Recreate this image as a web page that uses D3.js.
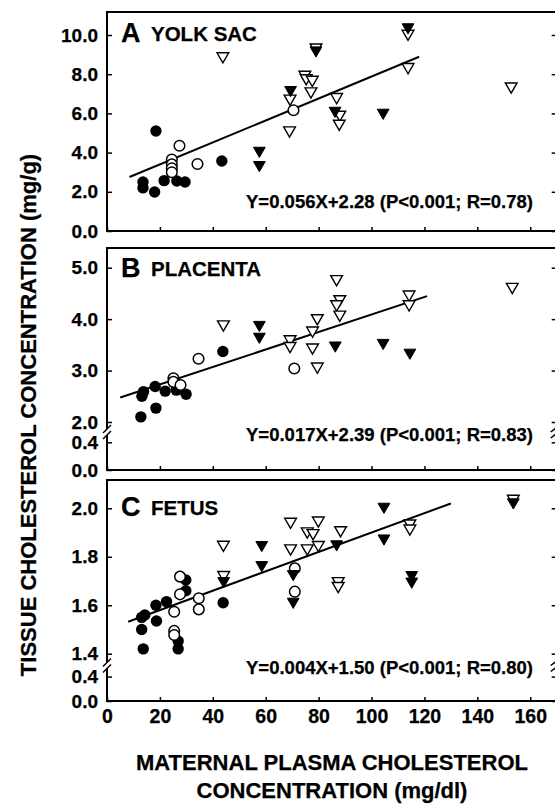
<!DOCTYPE html>
<html>
<head>
<meta charset="utf-8">
<script src="https://cdn.jsdelivr.net/npm/d3@7"></script>
<style>
  body { margin: 0; background: #fff; }
  svg text { font-family: "Liberation Sans", Arial, sans-serif; font-weight: bold; fill: #000; stroke: #000; stroke-width: 0.25px; }
</style>
</head>
<body>
<svg id="chart"></svg>
<script>
// ---- data: [maternal plasma chol (mg/dl), tissue chol (mg/g)] ----
const xTicks = [0, 20, 40, 60, 80, 100, 120, 140, 160];

// A: yolk sac
const aFilledCircle = [[18.5,5.1],[13.6,2.5],[13.6,2.2],[18,1.99],[21.6,2.57],[26.4,2.55],[29.5,2.5],[43.4,3.57]];
const aOpenCircle = [[27.4,4.35],[24.5,3.65],[24.5,3.4],[24.5,3.2],[24.5,3.0],[34.2,3.42],[70.5,6.16]];
const aFilledTri = [[57.6,4.1],[57.6,3.37],[69.4,7.2],[79,9.22],[86.2,6.14],[104.4,6.04],[113.8,10.4]];
const aOpenTri = [[43.8,8.92],[69.2,6.76],[69,5.14],[74.8,7.98],[75.3,7.8],[77.6,7.72],[77.1,7.13],[79,9.37],
  [86.8,6.84],[88,5.94],[87.8,5.48],[113.8,10.07],[113.8,8.37],[152.8,7.38]];
const aTicks = [0, 2, 4, 6, 8, 10];

// B: placenta
const bFilledCircle = [[12.8,2.1],[18.5,2.27],[13.2,2.5],[13.8,2.59],[18.2,2.69],[22,2.6],[26.2,2.62],[29.9,2.54],[43.8,3.37]];
const bOpenCircle = [[25.1,2.85],[25.1,2.78],[27.8,2.72],[34.6,3.23],[70.8,3.04]];
const bFilledTri = [[57.6,3.89],[57.6,3.66],[86.3,3.49],[104.4,3.54],[114.5,3.35]];
const bOpenTri = [[44,3.9],[69.2,3.61],[69.2,3.48],[77.7,3.78],[77.7,3.45],[79.5,4.02],[79.5,3.08],[86.8,4.78],
  [88,4.39],[86.8,4.29],[88,4.09],[114.2,4.48],[114.2,4.29],[153.2,4.63]];
const bTicks = [2, 3, 4, 5];

// C: fetus
const cFilledCircle = [[13.7,1.42],[13.1,1.5],[13.1,1.55],[14.3,1.56],[18.7,1.535],[18.5,1.6],[22.5,1.615],
  [26.9,1.452],[26.9,1.42],[29.8,1.704],[29.8,1.66],[43.9,1.61]];
const cOpenCircle = [[25.4,1.573],[25.4,1.494],[25.4,1.477],[27.6,1.718],[27.6,1.645],[34.7,1.629],[34.7,1.583],[71,1.752],[71,1.656]];
const cFilledTri = [[44.1,1.7],[58.5,1.849],[58.5,1.766],[70.4,1.729],[70.4,1.615],[86.8,1.852],[104.7,2.007],
  [104.7,1.876],[115.2,1.725],[115.2,1.698],[153.6,2.025]];
const cOpenTri = [[44.1,1.725],[44,1.85],[69.4,1.945],[79.9,1.95],[75.7,1.905],[77.9,1.898],[88.3,1.91],[69.4,1.835],
  [75.7,1.835],[79.9,1.849],[87.4,1.7],[87.4,1.68],[114.5,1.938],[114.5,1.917],[153.6,2.04]];
const cTicks = [1.4, 1.6, 1.8, 2.0];

const lowTicks = [0, 0.4];   // the part below the axis break (B and C)

// regression fits: slope, intercept, x range of the drawn line
const fitA = { m: 0.056, b: 2.28, from: 8.5, to: 118 };
const fitB = { m: 0.017, b: 2.39, from: 5, to: 121 };
const fitC = { m: 0.004, b: 1.50, from: 8, to: 130 };

const eqA = "Y=0.056X+2.28 (P<0.001; R=0.78)";
const eqB = "Y=0.017X+2.39 (P<0.001; R=0.83)";
const eqC = "Y=0.004X+1.50 (P<0.001; R=0.80)";

// ---- layout ----
const width = 555, height = 804;
const left = 107, right = 556.7;

const svg = d3.select("#chart").attr("width", width).attr("height", height);

const x = d3.scaleLinear().domain([0, 170]).range([left, right]);

const panels = [
  { letter: "A", name: "YOLK SAC", top: 12, bottom: 231,
    y: d3.scaleLinear().domain([0, 10]).range([231, 35]), ticks: aTicks,
    fc: aFilledCircle, oc: aOpenCircle, ft: aFilledTri, ot: aOpenTri, fit: fitA, eq: eqA,
    letterY: 42, eqY: 208, xLabels: false },
  { letter: "B", name: "PLACENTA", top: 248, bottom: 470,
    y: d3.scaleLinear().domain([2, 5]).range([422, 267.7]), ticks: bTicks,
    yLow: d3.scaleLinear().domain([0, 0.4]).range([470, 442.3]), breakY: 432,
    fc: bFilledCircle, oc: bOpenCircle, ft: bFilledTri, ot: bOpenTri, fit: fitB, eq: eqB,
    letterY: 277, eqY: 441, xLabels: false },
  { letter: "C", name: "FETUS", top: 480, bottom: 701,
    y: d3.scaleLinear().domain([1.4, 2.0]).range([653.7, 508.3]), ticks: cTicks,
    yLow: d3.scaleLinear().domain([0, 0.4]).range([701, 676.6]), breakY: 665.5,
    fc: cFilledCircle, oc: cOpenCircle, ft: cFilledTri, ot: cOpenTri, fit: fitC, eq: eqC,
    letterY: 516, eqY: 674, xLabels: true }
];

const fmt = d3.format(".1f");
const tri = d3.symbol(d3.symbolTriangle, 60);

panels.forEach(p => {
  const g = svg.append("g");

  // frame (left side broken where the y axis has a break)
  const frame = g.append("g").attr("stroke", "#000").attr("stroke-width", 2).attr("fill", "none");
  frame.append("line").attr("x1", left - 1).attr("x2", right).attr("y1", p.top).attr("y2", p.top);
  frame.append("line").attr("x1", left - 1).attr("x2", right).attr("y1", p.bottom).attr("y2", p.bottom);
  frame.append("line").attr("x1", right).attr("x2", right).attr("y1", p.top).attr("y2", p.bottom);
  if (p.breakY) {
    frame.append("line").attr("x1", left).attr("x2", left).attr("y1", p.top - 1).attr("y2", p.breakY - 3);
    frame.append("line").attr("x1", left).attr("x2", left).attr("y1", p.breakY + 3).attr("y2", p.bottom + 1);
    [-3, 3].forEach(off => {
      frame.append("line").attr("stroke-width", 1.5)
        .attr("x1", left - 4).attr("y1", p.breakY + off + 4)
        .attr("x2", left + 4).attr("y2", p.breakY + off - 4);
      frame.append("line").attr("stroke-width", 1.5)
        .attr("x1", right - 6).attr("y1", p.breakY + off + 3)
        .attr("x2", right + 2).attr("y2", p.breakY + off - 3);
    });
  } else {
    frame.append("line").attr("x1", left).attr("x2", left).attr("y1", p.top - 1).attr("y2", p.bottom + 1);
  }

  // y axes (ticks point inward)
  const yAxes = [[p.y, p.ticks]];
  if (p.yLow) yAxes.push([p.yLow, lowTicks]);
  yAxes.forEach(([sc, tv]) => {
    const ga = g.append("g").attr("transform", `translate(${left},0)`)
      .call(d3.axisLeft(sc).tickValues(tv).tickFormat(fmt).tickSize(-5).tickPadding(9));
    ga.select(".domain").remove();
    ga.attr("font-size", 19);
    ga.selectAll("line").attr("stroke-width", 1.5);
    const gr = g.append("g").attr("transform", `translate(${right},0)`)
      .call(d3.axisRight(sc).tickValues(tv).tickFormat("").tickSize(-5));
    gr.select(".domain").remove();
    gr.selectAll("line").attr("stroke-width", 1.5);
  });

  // x axis ticks
  const gx = g.append("g").attr("transform", `translate(0,${p.bottom})`)
    .call(d3.axisBottom(x).tickValues(xTicks).tickSize(-4).tickPadding(8)
      .tickFormat(p.xLabels ? d => d : ""));
  gx.select(".domain").remove();
  gx.attr("font-size", 19.5);
  gx.selectAll("line").attr("stroke-width", 1.5);

  // regression line
  const line = d3.line().x(d => x(d)).y(d => p.y(p.fit.m * d + p.fit.b));
  g.append("path").datum([p.fit.from, p.fit.to]).attr("d", line)
    .attr("stroke", "#000").attr("stroke-width", 2).attr("fill", "none");

  // markers
  g.selectAll(".fc").data(p.fc).join("circle").attr("class", "fc")
    .attr("cx", d => x(d[0])).attr("cy", d => p.y(d[1])).attr("r", 5.7).attr("fill", "#000");
  g.selectAll(".oc").data(p.oc).join("circle").attr("class", "oc")
    .attr("cx", d => x(d[0])).attr("cy", d => p.y(d[1])).attr("r", 5.3)
    .attr("fill", "#fff").attr("stroke", "#000").attr("stroke-width", 1.5);
  g.selectAll(".ot").data(p.ot).join("path").attr("class", "ot").attr("d", tri)
    .attr("transform", d => `translate(${x(d[0])},${p.y(d[1])}) rotate(180)`)
    .attr("fill", "#fff").attr("stroke", "#000").attr("stroke-width", 1.4);
  g.selectAll(".ft").data(p.ft).join("path").attr("class", "ft").attr("d", tri)
    .attr("transform", d => `translate(${x(d[0])},${p.y(d[1])}) rotate(180)`)
    .attr("fill", "#000").attr("stroke", "#000").attr("stroke-width", 1);

  // panel label
  g.append("text").attr("x", 121).attr("y", p.letterY).style("font-size", "27px").text(p.letter);
  g.append("text").attr("x", 151).attr("y", p.letterY - 1).style("font-size", "20.5px").text(p.name);

  // equation
  g.append("text").attr("x", 533).attr("y", p.eqY).attr("text-anchor", "end")
    .style("font-size", "18.5px").text(p.eq);
});

// axis titles
svg.append("text").attr("transform", "translate(36,415) rotate(-90)")
  .attr("text-anchor", "middle").style("font-size", "22px")
  .text("TISSUE CHOLESTEROL CONCENTRATION (mg/g)");

svg.append("text").attr("x", 332).attr("y", 770).attr("text-anchor", "middle")
  .style("font-size", "22px").text("MATERNAL PLASMA CHOLESTEROL");
svg.append("text").attr("x", 332).attr("y", 798).attr("text-anchor", "middle")
  .style("font-size", "22px").text("CONCENTRATION (mg/dl)");
</script>
</body>
</html>
